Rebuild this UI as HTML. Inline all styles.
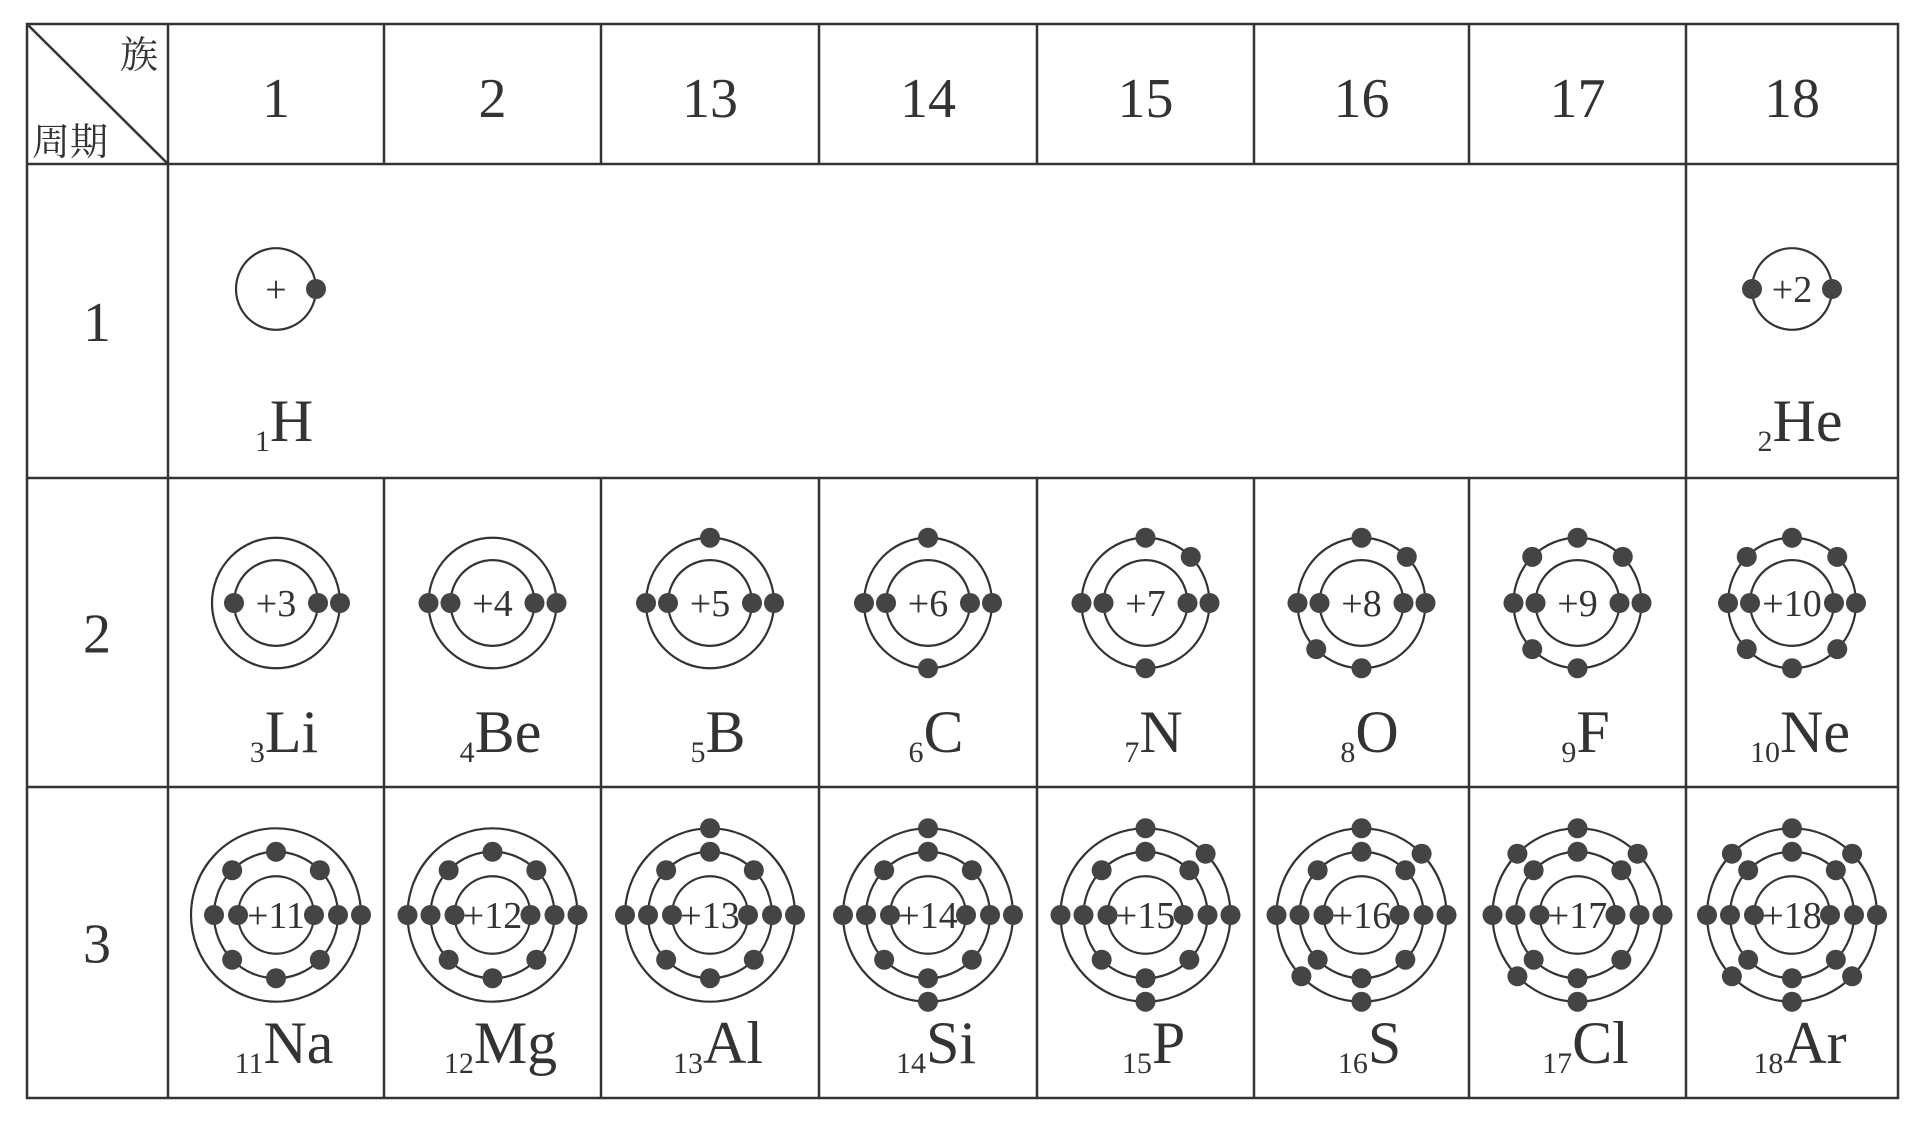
<!DOCTYPE html>
<html><head><meta charset="utf-8"><style>
html,body{margin:0;padding:0;background:#fff;}
svg{display:block;}
text{font-family:"Liberation Serif","Noto Serif CJK SC",serif;fill:#333;}
</style></head><body>
<svg id="chart" width="1920" height="1121" viewBox="0 0 1920 1121" xmlns="http://www.w3.org/2000/svg">
<g id="grid" stroke="#333" stroke-width="2.5" fill="none"></g>
<g id="cells"></g>
</svg>
<script>
const groups = ["1","2","13","14","15","16","17","18"];
const periods = ["1","2","3"];
const symbols = ["H","He","Li","Be","B","C","N","O","F","Ne","Na","Mg","Al","Si","P","S","Cl","Ar"];
const atomicNumbers = [1,2,3,4,5,6,7,8,9,10,11,12,13,14,15,16,17,18];
const elementPeriod = [1,1,2,2,2,2,2,2,2,2,3,3,3,3,3,3,3,3];
const elementColumn = [0,7,0,1,2,3,4,5,6,7,0,1,2,3,4,5,6,7];

const NS="http://www.w3.org/2000/svg";
const colX=[27,168,384,601,819,1037,1254,1469,1686,1898];
const rowY=[24,164,478,787,1098];
function mk(tag,attrs,parent){const e=document.createElementNS(NS,tag);for(const k in attrs)e.setAttribute(k,attrs[k]);parent.appendChild(e);return e;}
const grid=document.getElementById('grid');
const cells=document.getElementById('cells');
const svg=document.getElementById('chart');
let b=mk('rect',{x:27,y:24,width:1871,height:1074},grid);


for(let i=1;i<4;i++){let l=mk('line',{x1:27,x2:1898,y1:rowY[i],y2:rowY[i]},grid);

}
for(let c=1;c<9;c++){
  const segs=[[rowY[0],rowY[1]],[rowY[2],rowY[4]]];
  if(c===1||c===8) segs.push([rowY[1],rowY[2]]);
  segs.forEach(s=>{let l=mk('line',{x1:colX[c],x2:colX[c],y1:s[0],y2:s[1]},grid);
  
  });
}
let d=mk('line',{x1:27,y1:24,x2:168,y2:164},grid);


let t=mk('text',{x:158,y:68,'font-size':38,'text-anchor':'end'},svg);t.textContent='族';


t=mk('text',{x:32,y:155,'font-size':38},svg);t.textContent='周期';


groups.forEach((g,i)=>{const tx=mk('text',{x:(colX[i+1]+colX[i+2])/2,y:117,'font-size':56,'text-anchor':'middle'},svg);tx.textContent=g;

});
periods.forEach((p,i)=>{const tx=mk('text',{x:97,y:(rowY[i+1]+rowY[i+2])/2+20,'font-size':56,'text-anchor':'middle'},svg);tx.textContent=p;

});

function shells(z){const s=[];let r=z;[2,8,8].forEach(c=>{if(r>0){s.push(Math.min(c,r));r-=c;}});return s;}
const slotOrder=[0,180,-90,90,-45,135,-135,45];
symbols.forEach((sym,i)=>{
  const z=atomicNumbers[i],p=elementPeriod[i],c=elementColumn[i];
  const cx=(colX[c+1]+colX[c+2])/2;
  const cy=[289,603,915][p-1];
  const g=mk('g',{},cells);
  
  
  const sh=shells(z);
  const radii=p===1?[40]:p===2?[42,64]:[38,62,85];
  radii.forEach(r=>mk('ellipse',{cx:cx,cy:cy,rx:r,ry:r*1.02,fill:'none',stroke:'#333','stroke-width':2.2},g));
  sh.forEach((n,k)=>{const r=radii[k];
    for(let e=0;e<n;e++){
      let a=(k===0)?(n===1?0:[180,0][e]):slotOrder[e];
      if(p===3&&k===2&&n===1)a=0;
      const rad=a*Math.PI/180;
      const dot=mk('circle',{cx:cx+r*Math.cos(rad),cy:cy+r*1.02*Math.sin(rad),r:10,fill:'#444'},g);
      
      
    }});
  const nuc=mk('text',{x:cx,y:cy+13,'font-size':38,'text-anchor':'middle'},g);
  nuc.textContent=z===1?'+':'+'+z;
  
  
  const by=[441,752,1063][p-1];
  const lab=mk('text',{x:cx+8,y:by,'font-size':60,'text-anchor':'middle'},g);
  const sub=document.createElementNS(NS,'tspan');sub.setAttribute('font-size','30');sub.setAttribute('dy','10');sub.textContent=z;lab.appendChild(sub);
  const main=document.createElementNS(NS,'tspan');main.setAttribute('dy','-10');main.textContent=sym;lab.appendChild(main);
  
  
});
</script>
</body></html>
